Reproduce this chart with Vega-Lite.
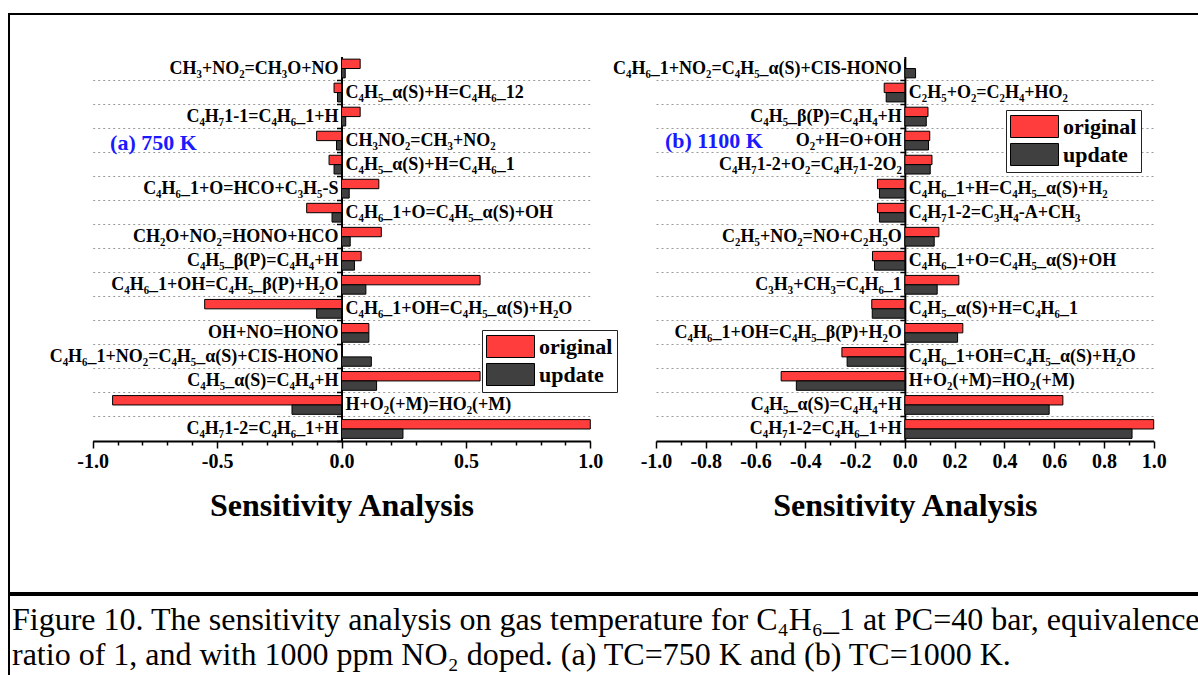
{
  "$schema": "https://vega.github.io/schema/vega-lite/v6.json",
  "padding": {"left": 8, "top": 13, "right": 0, "bottom": 0},
  "background": "white",
  "spacing": 0,
  "config": {"view": {"stroke": "black", "strokeWidth": 2}, "font": "Liberation Serif"},
  "datasets": {
    "a": [
      {"reaction": "CH₃+NO₂=CH₃O+NO", "series": "original", "value": 0.075},
      {"reaction": "CH₃+NO₂=CH₃O+NO", "series": "update", "value": 0.015},
      {"reaction": "C₄H₅_α(S)+H=C₄H₆_12", "series": "original", "value": -0.03},
      {"reaction": "C₄H₅_α(S)+H=C₄H₆_12", "series": "update", "value": -0.016},
      {"reaction": "C₄H₇1-1=C₄H₆_1+H", "series": "original", "value": 0.075},
      {"reaction": "C₄H₇1-1=C₄H₆_1+H", "series": "update", "value": 0.017},
      {"reaction": "CH₃NO₂=CH₃+NO₂", "series": "original", "value": -0.1},
      {"reaction": "CH₃NO₂=CH₃+NO₂", "series": "update", "value": -0.02},
      {"reaction": "C₄H₅_α(S)+H=C₄H₆_1", "series": "original", "value": -0.05},
      {"reaction": "C₄H₅_α(S)+H=C₄H₆_1", "series": "update", "value": -0.03},
      {"reaction": "C₄H₆_1+O=HCO+C₃H₅-S", "series": "original", "value": 0.15},
      {"reaction": "C₄H₆_1+O=HCO+C₃H₅-S", "series": "update", "value": 0.031},
      {"reaction": "C₄H₆_1+O=C₄H₅_α(S)+OH", "series": "original", "value": -0.14},
      {"reaction": "C₄H₆_1+O=C₄H₅_α(S)+OH", "series": "update", "value": -0.038},
      {"reaction": "CH₂O+NO₂=HONO+HCO", "series": "original", "value": 0.16},
      {"reaction": "CH₂O+NO₂=HONO+HCO", "series": "update", "value": 0.035},
      {"reaction": "C₄H₅_β(P)=C₄H₄+H", "series": "original", "value": 0.079},
      {"reaction": "C₄H₅_β(P)=C₄H₄+H", "series": "update", "value": 0.052},
      {"reaction": "C₄H₆_1+OH=C₄H₅_β(P)+H₂O", "series": "original", "value": 0.557},
      {"reaction": "C₄H₆_1+OH=C₄H₅_β(P)+H₂O", "series": "update", "value": 0.098},
      {"reaction": "C₄H₆_1+OH=C₄H₅_α(S)+H₂O", "series": "original", "value": -0.55},
      {"reaction": "C₄H₆_1+OH=C₄H₅_α(S)+H₂O", "series": "update", "value": -0.1},
      {"reaction": "OH+NO=HONO", "series": "original", "value": 0.11},
      {"reaction": "OH+NO=HONO", "series": "update", "value": 0.11},
      {"reaction": "C₄H₆_1+NO₂=C₄H₅_α(S)+CIS-HONO", "series": "original", "value": 0},
      {"reaction": "C₄H₆_1+NO₂=C₄H₅_α(S)+CIS-HONO", "series": "update", "value": 0.12},
      {"reaction": "C₄H₅_α(S)=C₄H₄+H", "series": "original", "value": 0.557},
      {"reaction": "C₄H₅_α(S)=C₄H₄+H", "series": "update", "value": 0.141},
      {"reaction": "H+O₂(+M)=HO₂(+M)", "series": "original", "value": -0.92},
      {"reaction": "H+O₂(+M)=HO₂(+M)", "series": "update", "value": -0.199},
      {"reaction": "C₄H₇1-2=C₄H₆_1+H", "series": "original", "value": 1.0},
      {"reaction": "C₄H₇1-2=C₄H₆_1+H", "series": "update", "value": 0.247}
    ],
    "b": [
      {"reaction": "C₄H₆_1+NO₂=C₄H₅_α(S)+CIS-HONO", "series": "original", "value": 0},
      {"reaction": "C₄H₆_1+NO₂=C₄H₅_α(S)+CIS-HONO", "series": "update", "value": 0.043},
      {"reaction": "C₂H₅+O₂=C₂H₄+HO₂", "series": "original", "value": -0.083},
      {"reaction": "C₂H₅+O₂=C₂H₄+HO₂", "series": "update", "value": -0.075},
      {"reaction": "C₄H₅_β(P)=C₄H₄+H", "series": "original", "value": 0.093},
      {"reaction": "C₄H₅_β(P)=C₄H₄+H", "series": "update", "value": 0.086},
      {"reaction": "O₂+H=O+OH", "series": "original", "value": 0.1},
      {"reaction": "O₂+H=O+OH", "series": "update", "value": 0.095},
      {"reaction": "C₄H₇1-2+O₂=C₄H₇1-2O₂", "series": "original", "value": 0.109},
      {"reaction": "C₄H₇1-2+O₂=C₄H₇1-2O₂", "series": "update", "value": 0.102},
      {"reaction": "C₄H₆_1+H=C₄H₅_α(S)+H₂", "series": "original", "value": -0.11},
      {"reaction": "C₄H₆_1+H=C₄H₅_α(S)+H₂", "series": "update", "value": -0.102},
      {"reaction": "C₄H₇1-2=C₃H₄-A+CH₃", "series": "original", "value": -0.11},
      {"reaction": "C₄H₇1-2=C₃H₄-A+CH₃", "series": "update", "value": -0.102},
      {"reaction": "C₂H₅+NO₂=NO+C₂H₅O", "series": "original", "value": 0.137},
      {"reaction": "C₂H₅+NO₂=NO+C₂H₅O", "series": "update", "value": 0.118},
      {"reaction": "C₄H₆_1+O=C₄H₅_α(S)+OH", "series": "original", "value": -0.13},
      {"reaction": "C₄H₆_1+O=C₄H₅_α(S)+OH", "series": "update", "value": -0.122},
      {"reaction": "C₃H₃+CH₃=C₄H₆_1", "series": "original", "value": 0.217},
      {"reaction": "C₃H₃+CH₃=C₄H₆_1", "series": "update", "value": 0.13},
      {"reaction": "C₄H₅_α(S)+H=C₄H₆_1", "series": "original", "value": -0.133},
      {"reaction": "C₄H₅_α(S)+H=C₄H₆_1", "series": "update", "value": -0.131},
      {"reaction": "C₄H₆_1+OH=C₄H₅_β(P)+H₂O", "series": "original", "value": 0.233},
      {"reaction": "C₄H₆_1+OH=C₄H₅_β(P)+H₂O", "series": "update", "value": 0.212},
      {"reaction": "C₄H₆_1+OH=C₄H₅_α(S)+H₂O", "series": "original", "value": -0.253},
      {"reaction": "C₄H₆_1+OH=C₄H₅_α(S)+H₂O", "series": "update", "value": -0.232},
      {"reaction": "H+O₂(+M)=HO₂(+M)", "series": "original", "value": -0.497},
      {"reaction": "H+O₂(+M)=HO₂(+M)", "series": "update", "value": -0.436},
      {"reaction": "C₄H₅_α(S)=C₄H₄+H", "series": "original", "value": 0.635},
      {"reaction": "C₄H₅_α(S)=C₄H₄+H", "series": "update", "value": 0.58},
      {"reaction": "C₄H₇1-2=C₄H₆_1+H", "series": "original", "value": 1.0},
      {"reaction": "C₄H₇1-2=C₄H₆_1+H", "series": "update", "value": 0.913}
    ],
    "caption": [
      {"caption": "Figure 10. The sensitivity analysis on gas temperature for C₄H₆_1 at PC=40 bar, equivalence\nratio of 1, and with 1000 ppm NO₂ doped. (a) TC=750 K and (b) TC=1000 K."}
    ]
  },
  "vconcat": [
    {
      "width": 1198,
      "height": 579,
      "layer": [
        {
          "data": {"name": "a"},
          "layer": [
            {
              "mark": {"type": "bar", "stroke": "black", "strokeWidth": 1},
              "encoding": {
                "x": {
                  "field": "value", "type": "quantitative",
                  "scale": {"domain": [-1, 1], "range": [83.7, 581.3], "nice": false, "zero": false},
                  "axis": {
                    "orient": "bottom", "offset": -152,
                    "values": [-1, -0.9, -0.8, -0.7, -0.6, -0.5, -0.4, -0.3, -0.2, -0.1, 0, 0.1, 0.2, 0.3, 0.4, 0.5, 0.6, 0.7, 0.8, 0.9, 1],
                    "labelExpr": "abs(datum.value*2 - round(datum.value*2)) < 0.001 ? replace(format(datum.value, '.1f'), '−', '-') : ''",
                    "tickSize": {"condition": {"test": "abs(datum.value*2 - round(datum.value*2)) < 0.001", "value": 7}, "value": 4},
                    "grid": false,
                    "title": "Sensitivity Analysis",
                    "titleFont": "Liberation Serif", "titleFontSize": 32, "titleFontWeight": "bold", "titleColor": "black", "titlePadding": 19,
                    "labelFont": "Liberation Serif", "labelFontSize": 20, "labelFontWeight": "bold", "labelColor": "black", "labelPadding": 3,
                    "labelFlush": false, "labelOverlap": false,
                    "domainColor": "black", "domainWidth": 2, "tickColor": "black", "tickWidth": 1.5
                  }
                },
                "y": {
                  "field": "reaction", "type": "nominal",
                  "scale": {"domain": ["CH₃+NO₂=CH₃O+NO", "C₄H₅_α(S)+H=C₄H₆_12", "C₄H₇1-1=C₄H₆_1+H", "CH₃NO₂=CH₃+NO₂", "C₄H₅_α(S)+H=C₄H₆_1", "C₄H₆_1+O=HCO+C₃H₅-S", "C₄H₆_1+O=C₄H₅_α(S)+OH", "CH₂O+NO₂=HONO+HCO", "C₄H₅_β(P)=C₄H₄+H", "C₄H₆_1+OH=C₄H₅_β(P)+H₂O", "C₄H₆_1+OH=C₄H₅_α(S)+H₂O", "OH+NO=HONO", "C₄H₆_1+NO₂=C₄H₅_α(S)+CIS-HONO", "C₄H₅_α(S)=C₄H₄+H", "H+O₂(+M)=HO₂(+M)", "C₄H₇1-2=C₄H₆_1+H"], "range": [42.5, 427], "paddingInner": 0, "paddingOuter": 0},
                  "axis": {
                    "orient": "left", "offset": -332.5, "title": null, "labels": false,
                    "grid": true, "gridDash": [2, 3], "gridColor": "#9a9a9a", "gridWidth": 1,
                    "bandPosition": 1,
                    "domain": true, "domainColor": "black", "domainWidth": 2,
                    "ticks": true, "tickColor": "black", "tickWidth": 1.5, "tickSize": 5
                  }
                },
                "yOffset": {"field": "series", "type": "nominal", "scale": {"domain": ["original", "update"], "paddingInner": 0, "paddingOuter": 0.28}},
                "color": {
                  "field": "series", "type": "nominal",
                  "scale": {"domain": ["original", "update"], "range": ["#FF3D3D", "#404040"]},
                  "legend": {
                    "orient": "none", "legendX": 473, "legendY": 316, "title": null, "direction": "vertical",
                    "symbolType": "M-1,-0.917H3V0.917H-1Z", "symbolSize": 576,
                    "symbolStrokeColor": "black", "symbolStrokeWidth": 1, "symbolOpacity": 1,
                    "labelFont": "Liberation Serif", "labelFontSize": 22, "labelFontWeight": "bold", "labelColor": "black",
                    "labelOffset": 28, "rowPadding": 1, "padding": 4,
                    "strokeColor": "#222222", "fillColor": "white"
                  }
                }
              }
            },
            {
              "transform": [{"filter": "datum.series == 'original' && datum.value >= 0"}],
              "mark": {"type": "text", "align": "right", "baseline": "middle", "dx": -3, "fontSize": 18, "fontWeight": "bold", "font": "Liberation Serif", "color": "black"},
              "encoding": {
                "x": {"datum": 0},
                "y": {"field": "reaction", "type": "nominal"},
                "text": {"field": "reaction"}
              }
            },
            {
              "transform": [{"filter": "datum.series == 'original' && datum.value < 0"}],
              "mark": {"type": "text", "align": "left", "baseline": "middle", "dx": 4, "fontSize": 18, "fontWeight": "bold", "font": "Liberation Serif", "color": "black"},
              "encoding": {
                "x": {"datum": 0},
                "y": {"field": "reaction", "type": "nominal"},
                "text": {"field": "reaction"}
              }
            },
            {
              "data": {"values": [{"label": "(a) 750 K"}]},
              "mark": {"type": "text", "align": "left", "baseline": "middle", "dy": 2, "fontSize": 22, "fontWeight": "bold", "font": "Liberation Serif", "color": "#1a1aff"},
              "encoding": {
                "x": {"datum": -0.93},
                "y": {"datum": "CH₃NO₂=CH₃+NO₂"},
                "text": {"field": "label"}
              }
            }
          ]
        },
        {
          "data": {"name": "b"},
          "layer": [
            {
              "mark": {"type": "bar", "stroke": "black", "strokeWidth": 1},
              "encoding": {
                "x": {
                  "field": "value", "type": "quantitative",
                  "scale": {"domain": [-1, 1], "range": [647, 1144.7], "nice": false, "zero": false},
                  "axis": {
                    "orient": "bottom", "offset": -152,
                    "values": [-1, -0.95, -0.9, -0.85, -0.8, -0.75, -0.7, -0.65, -0.6, -0.55, -0.5, -0.45, -0.4, -0.35, -0.3, -0.25, -0.2, -0.15, -0.1, -0.05, 0, 0.05, 0.1, 0.15, 0.2, 0.25, 0.3, 0.35, 0.4, 0.45, 0.5, 0.55, 0.6, 0.65, 0.7, 0.75, 0.8, 0.85, 0.9, 0.95, 1],
                    "labelExpr": "abs(datum.value*5 - round(datum.value*5)) < 0.001 ? replace(format(datum.value, '.1f'), '−', '-') : ''",
                    "tickSize": {"condition": {"test": "abs(datum.value*5 - round(datum.value*5)) < 0.001", "value": 7}, "value": 4},
                    "grid": false,
                    "title": "Sensitivity Analysis",
                    "titleFont": "Liberation Serif", "titleFontSize": 32, "titleFontWeight": "bold", "titleColor": "black", "titlePadding": 19,
                    "labelFont": "Liberation Serif", "labelFontSize": 20, "labelFontWeight": "bold", "labelColor": "black", "labelPadding": 3,
                    "labelFlush": false, "labelOverlap": false,
                    "domainColor": "black", "domainWidth": 2, "tickColor": "black", "tickWidth": 1.5
                  }
                },
                "y": {
                  "field": "reaction", "type": "nominal",
                  "scale": {"domain": ["C₄H₆_1+NO₂=C₄H₅_α(S)+CIS-HONO", "C₂H₅+O₂=C₂H₄+HO₂", "C₄H₅_β(P)=C₄H₄+H", "O₂+H=O+OH", "C₄H₇1-2+O₂=C₄H₇1-2O₂", "C₄H₆_1+H=C₄H₅_α(S)+H₂", "C₄H₇1-2=C₃H₄-A+CH₃", "C₂H₅+NO₂=NO+C₂H₅O", "C₄H₆_1+O=C₄H₅_α(S)+OH", "C₃H₃+CH₃=C₄H₆_1", "C₄H₅_α(S)+H=C₄H₆_1", "C₄H₆_1+OH=C₄H₅_β(P)+H₂O", "C₄H₆_1+OH=C₄H₅_α(S)+H₂O", "H+O₂(+M)=HO₂(+M)", "C₄H₅_α(S)=C₄H₄+H", "C₄H₇1-2=C₄H₆_1+H"], "range": [42.5, 427], "paddingInner": 0, "paddingOuter": 0},
                  "axis": {
                    "orient": "left", "offset": -895.85, "title": null, "labels": false,
                    "grid": true, "gridDash": [2, 3], "gridColor": "#9a9a9a", "gridWidth": 1,
                    "bandPosition": 1,
                    "domain": true, "domainColor": "black", "domainWidth": 2,
                    "ticks": true, "tickColor": "black", "tickWidth": 1.5, "tickSize": 5
                  }
                },
                "yOffset": {"field": "series", "type": "nominal", "scale": {"domain": ["original", "update"], "paddingInner": 0, "paddingOuter": 0.28}},
                "color": {
                  "field": "series", "type": "nominal",
                  "scale": {"domain": ["original", "update"], "range": ["#FF3D3D", "#404040"]},
                  "legend": {
                    "orient": "none", "legendX": 997, "legendY": 96, "title": null, "direction": "vertical",
                    "symbolType": "M-1,-0.917H3V0.917H-1Z", "symbolSize": 576,
                    "symbolStrokeColor": "black", "symbolStrokeWidth": 1, "symbolOpacity": 1,
                    "labelFont": "Liberation Serif", "labelFontSize": 22, "labelFontWeight": "bold", "labelColor": "black",
                    "labelOffset": 28, "rowPadding": 1, "padding": 4,
                    "strokeColor": "#222222", "fillColor": "white"
                  }
                }
              }
            },
            {
              "transform": [{"filter": "datum.series == 'original' && datum.value >= 0"}],
              "mark": {"type": "text", "align": "right", "baseline": "middle", "dx": -3, "fontSize": 18, "fontWeight": "bold", "font": "Liberation Serif", "color": "black"},
              "encoding": {
                "x": {"datum": 0},
                "y": {"field": "reaction", "type": "nominal"},
                "text": {"field": "reaction"}
              }
            },
            {
              "transform": [{"filter": "datum.series == 'original' && datum.value < 0"}],
              "mark": {"type": "text", "align": "left", "baseline": "middle", "dx": 4, "fontSize": 18, "fontWeight": "bold", "font": "Liberation Serif", "color": "black"},
              "encoding": {
                "x": {"datum": 0},
                "y": {"field": "reaction", "type": "nominal"},
                "text": {"field": "reaction"}
              }
            },
            {
              "data": {"values": [{"label": "(b) 1100 K"}]},
              "mark": {"type": "text", "align": "left", "baseline": "middle", "dy": 0, "fontSize": 22, "fontWeight": "bold", "font": "Liberation Serif", "color": "#1a1aff"},
              "encoding": {
                "x": {"datum": -0.964},
                "y": {"datum": "O₂+H=O+OH"},
                "text": {"field": "label"}
              }
            }
          ]
        }
      ],
      "resolve": {
        "scale": {"x": "independent", "y": "independent", "yOffset": "independent", "color": "independent"},
        "axis": {"x": "independent", "y": "independent"},
        "legend": {"color": "independent"}
      }
    },
    {
      "width": 1198,
      "height": 100,
      "data": {"name": "caption"},
      "mark": {"type": "text", "align": "left", "baseline": "top", "dx": 3, "dy": 10, "lineBreak": "\n", "lineHeight": 35, "fontSize": 32, "font": "Liberation Serif", "color": "black"},
      "encoding": {
        "x": {"datum": 0, "type": "quantitative", "scale": {"domain": [0, 1]}, "axis": null},
        "y": {"datum": 1, "type": "quantitative", "scale": {"domain": [0, 1]}, "axis": null},
        "text": {"field": "caption"}
      }
    }
  ]
}
